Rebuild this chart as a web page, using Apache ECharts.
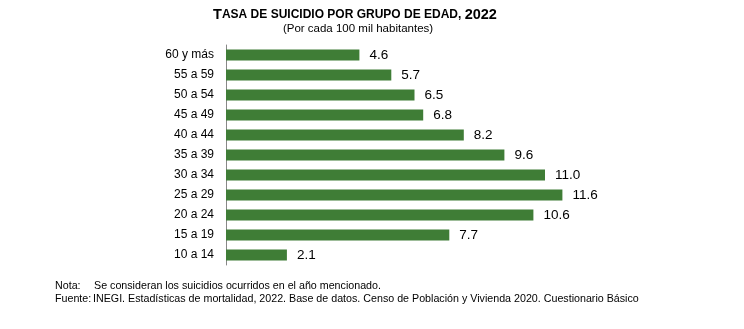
<!DOCTYPE html>
<html><head><meta charset="utf-8">
<script src="https://cdn.jsdelivr.net/npm/echarts@6/dist/echarts.min.js"></script>
<style>html,body{margin:0;padding:0;background:#fff}#c{width:744px;height:329px}</style>
</head><body><div id="c"></div>
<script>
const categories = ['10 a 14','15 a 19','20 a 24','25 a 29','30 a 34','35 a 39','40 a 44','45 a 49','50 a 54','55 a 59','60 y más'];
const values = [2.1, 7.7, 10.6, 11.6, 11.0, 9.6, 8.2, 6.8, 6.5, 5.7, 4.6];
const titleText = 'TASA DE SUICIDIO POR GRUPO DE EDAD, 2022';
const subtitleText = '(Por cada 100 mil habitantes)';
const notaText = 'Se consideran los suicidios ocurridos en el año mencionado.';
const fuenteText = 'INEGI. Estadísticas de mortalidad, 2022. Base de datos. Censo de Población y Vivienda 2020. Cuestionario Básico';

const chart = echarts.init(document.getElementById('c'));
const FF = 'Liberation Sans, Arial, sans-serif';
chart.setOption({
  animation: false,
  textStyle: {fontFamily: FF},
  title: [{
    text: '{a|T}{b|ASA DE SUICIDIO POR GRUPO DE EDAD, }{a|2022}',
    left: 350, top: 2, textAlign: 'center',
    textStyle: {rich: {
      a: {fontSize: 14.5, fontWeight: 'bold', color: '#000', fontFamily: FF},
      b: {fontSize: 12, fontWeight: 'bold', color: '#000', fontFamily: FF}
    }}
  },{
    text: subtitleText, left: 353, top: 18, textAlign: 'center',
    textStyle: {fontSize: 11.5, fontWeight: 'normal', color: '#000', fontFamily: FF}
  }],
  grid: {left: 226, top: 45, width: 406, height: 220},
  xAxis: {type: 'value', min: 0, max: 14, show: false},
  yAxis: {
    type: 'category', data: categories,
    axisLine: {show: true, lineStyle: {color: '#888', width: 1}},
    axisTick: {show: false},
    axisLabel: {color: '#000', fontSize: 12, margin: 12, fontFamily: FF}
  },
  series: [{
    type: 'bar', data: values, barWidth: 11,
    itemStyle: {color: '#3f7d36'},
    label: {show: true, position: 'right', distance: 10, fontSize: 13.5, color: '#000', fontFamily: FF,
      formatter: p => p.value.toFixed(1)}
  }],
  graphic: [
    {type: 'text', left: 55, top: 281, style: {text: 'Nota:', fontSize: 10.7, fill: '#000', fontFamily: FF}},
    {type: 'text', left: 94, top: 281, style: {text: notaText, fontSize: 10.7, fill: '#000', fontFamily: FF}},
    {type: 'text', left: 55, top: 294, style: {text: 'Fuente:', fontSize: 10.7, fill: '#000', fontFamily: FF}},
    {type: 'text', left: 93, top: 294, style: {text: fuenteText, fontSize: 10.7, fill: '#000', fontFamily: FF}}
  ]
});
</script></body></html>
